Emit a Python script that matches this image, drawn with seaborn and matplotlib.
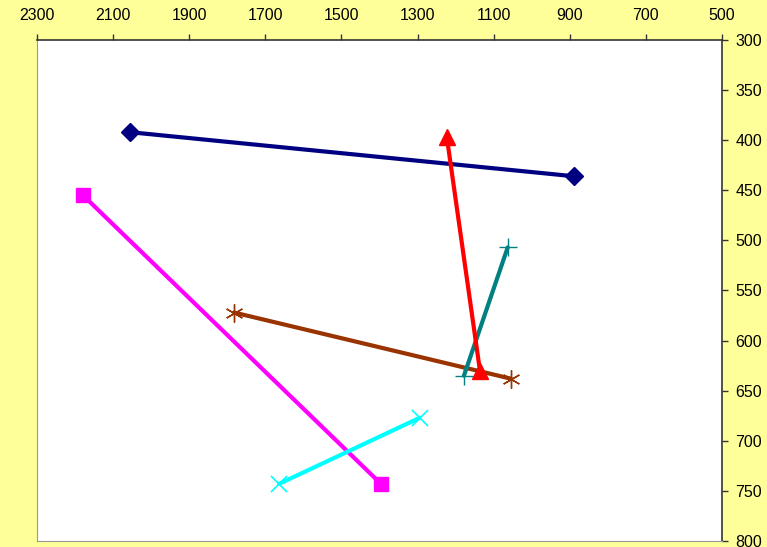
import matplotlib
matplotlib.use("Agg")
import matplotlib.pyplot as plt
import seaborn as sns
import pandas as pd

# Two-point segments: start and end coordinates for each series
navy_x = [2056, 889]
navy_y = [392, 436]
magenta_x = [2179, 1396]
magenta_y = [455, 743]
brown_x = [1782, 1055]
brown_y = [572, 638]
cyan_x = [1664, 1294]
cyan_y = [743, 677]
teal_x = [1178, 1063]
teal_y = [635, 507]
red_x = [1223, 1136]
red_y = [397, 630]

x_ticks = [2300, 2100, 1900, 1700, 1500, 1300, 1100, 900, 700, 500]
y_ticks = [300, 350, 400, 450, 500, 550, 600, 650, 700, 750, 800]

series = [
    ("navy", navy_x, navy_y, "#000080", "D", 9, 1.0),
    ("magenta", magenta_x, magenta_y, "#FF00FF", "s", 10, 1.0),
    ("brown", brown_x, brown_y, "#993300", (6, 2, 0), 13, 1.0),
    ("cyan", cyan_x, cyan_y, "#00FFFF", "x", 11, 1.2),
    ("teal", teal_x, teal_y, "#008080", "+", 13, 1.0),
    ("red", red_x, red_y, "#FF0000", "^", 11, 1.0),
]

sns.set_style("white")
plt.rcParams["font.family"] = ["Liberation Sans", "DejaVu Sans"]

fig = plt.figure(figsize=(7.67, 5.47), dpi=100, facecolor="#FFFF99")
ax = fig.add_axes([0.0482, 0.0110, 0.8931, 0.9159])
ax.set_facecolor("white")

for name, xs, ys, color, marker, msize, mew in series:
    df = pd.DataFrame({"x": xs, "y": ys})
    sns.lineplot(data=df, x="x", y="y", sort=False, ax=ax, color=color,
                 linewidth=3, marker=marker, markersize=msize,
                 markeredgecolor=color, markerfacecolor=color,
                 markeredgewidth=mew, estimator=None)

ax.set_xlim(2300, 500)
ax.set_ylim(800, 300)
ax.set_xticks(x_ticks)
ax.set_yticks(y_ticks)
ax.xaxis.tick_top()
ax.yaxis.tick_right()
ax.tick_params(axis="both", direction="out", length=4.5, width=1, color="#333333",
               labelsize=11.5, labelcolor="black")
ax.tick_params(axis="x", pad=7.5)
ax.tick_params(axis="y", pad=5)
ax.set_xlabel("")
ax.set_ylabel("")

for side in ("top", "right"):
    ax.spines[side].set_visible(True)
    ax.spines[side].set_color("#333333")
    ax.spines[side].set_linewidth(1.2)
for side in ("left", "bottom"):
    ax.spines[side].set_visible(True)
    ax.spines[side].set_color("#999999")
    ax.spines[side].set_linewidth(0.8)

fig.savefig("out.png", dpi=100, facecolor=fig.get_facecolor())
